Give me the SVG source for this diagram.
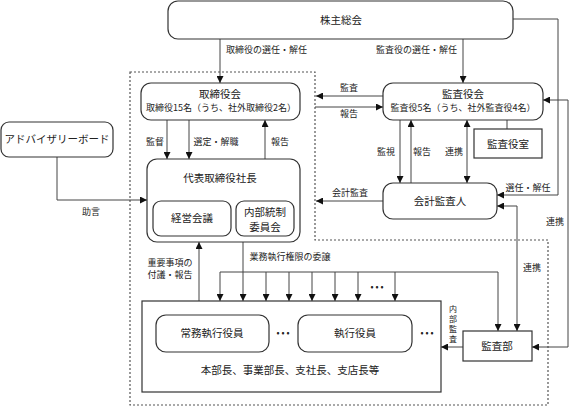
<svg xmlns="http://www.w3.org/2000/svg" width="570" height="407" viewBox="0 0 570 407">
<style>
text{font-family:"Noto Sans CJK JP","Noto Sans",sans-serif;fill:#222;text-anchor:middle}
.t{font-size:10.5px}
.s{font-size:9px}
.l{font-size:9px}
.v{font-size:8px}
.box{fill:#fff;stroke:#333;stroke-width:1.2}
.ln{fill:none;stroke:#444;stroke-width:1}
.dot{fill:none;stroke:#555;stroke-width:1.2;stroke-dasharray:2 2}
</style>
<defs>
<marker id="a" viewBox="0 0 8 8" refX="8" refY="4" markerWidth="7" markerHeight="7" orient="auto-start-reverse" markerUnits="userSpaceOnUse">
<path d="M0,0 L8,4 L0,8 z" fill="#111"/>
</marker>
</defs>
<rect width="570" height="407" fill="#fff"/>
<path class="dot" d="M130,72 H315 V240 H548 V405 H130 Z"/>
<g id="connectors">
<path class="ln" d="M220,39 V83" marker-end="url(#a)"/>
<path class="ln" d="M463,39 V83" marker-end="url(#a)"/>
<path class="ln" d="M167,120 V159" marker-end="url(#a)"/>
<path class="ln" d="M189,120 V159" marker-end="url(#a)"/>
<path class="ln" d="M265,159 V120" marker-end="url(#a)"/>
<path class="ln" d="M57,157 V200 H147" marker-end="url(#a)"/>
<path class="ln" d="M383,96 H316" marker-end="url(#a)"/>
<path class="ln" d="M315,107 H383" marker-end="url(#a)"/>
<path class="ln" d="M383,201 H316" marker-end="url(#a)"/>
<path class="ln" d="M400,120 V183" marker-end="url(#a)"/>
<path class="ln" d="M411,183 V120" marker-end="url(#a)"/>
<path class="ln" d="M467,120 V183" marker-start="url(#a)" marker-end="url(#a)"/>
<path class="ln" d="M507,120 V129"/>
<path class="ln" d="M513,19 H558 V195 H497" marker-end="url(#a)"/>
<path class="ln" d="M532,347 H568 V100 H543" marker-start="url(#a)" marker-end="url(#a)"/>
<path class="ln" d="M497,206 H517 V331" marker-start="url(#a)" marker-end="url(#a)"/>
<path class="ln" d="M463,347 H441" marker-end="url(#a)"/>
<path class="ln" d="M199,301 V242" marker-end="url(#a)"/>
<path class="ln" d="M243,242 V301" marker-end="url(#a)"/>
<path class="ln" d="M220,272 H498 V331" marker-end="url(#a)"/>
<path class="ln" d="M220,272 V301" marker-end="url(#a)"/>
<path class="ln" d="M266,272 V301" marker-end="url(#a)"/>
<path class="ln" d="M289,272 V301" marker-end="url(#a)"/>
<path class="ln" d="M312,272 V301" marker-end="url(#a)"/>
<path class="ln" d="M335,272 V301" marker-end="url(#a)"/>
<path class="ln" d="M358,272 V301" marker-end="url(#a)"/>
<path class="ln" d="M395,272 V301" marker-end="url(#a)"/>
<text class="l" x="377" y="290">• • •</text>
<text class="l" x="226" y="53" style="text-anchor:start">取締役の選任・解任</text>
<text class="l" x="376" y="53" style="text-anchor:start">監査役の選任・解任</text>
<text class="l" x="155" y="145">監督</text>
<text class="l" x="216" y="145">選定・解職</text>
<text class="l" x="280" y="145">報告</text>
<text class="l" x="91" y="215">助言</text>
<text class="l" x="349" y="91">監査</text>
<text class="l" x="349" y="117">報告</text>
<text class="l" x="350" y="196">会計監査</text>
<text class="l" x="386" y="155">監視</text>
<text class="l" x="422" y="155">報告</text>
<text class="l" x="454" y="155">連携</text>
<text class="l" x="528" y="191">選任・解任</text>
<text class="l" x="555" y="225">連携</text>
<text class="l" x="532" y="271">連携</text>
<text class="l" x="290" y="260">業務執行権限の委譲</text>
<text class="l"><tspan x="170" y="266">重要事項の</tspan><tspan x="170" y="278">付議・報告</tspan></text>
<text class="v"><tspan x="453" y="312">内</tspan><tspan x="453" y="322">部</tspan><tspan x="453" y="332">監</tspan><tspan x="453" y="342">査</tspan></text>
</g>
<g id="shareholders">
<rect class="box" x="168" y="1" width="345" height="38" rx="10"/>
<text class="t" x="341" y="24">株主総会</text>
</g>
<g id="board">
<rect class="box" x="141" y="83" width="159" height="37" rx="10"/>
<text class="t" x="220" y="98">取締役会</text>
<text class="s" x="221" y="111">取締役15名（うち、社外取締役2名）</text>
</g>
<g id="auditors">
<rect class="box" x="383" y="83" width="160" height="37" rx="10"/>
<text class="t" x="463" y="98">監査役会</text>
<text class="s" x="463" y="111">監査役5名（うち、社外監査役4名）</text>
</g>
<g id="auditoffice">
<rect class="box" x="474" y="129" width="68" height="29"/>
<text class="t" x="508" y="148">監査役室</text>
</g>
<g id="advisory">
<rect class="box" x="1" y="122" width="112" height="35" rx="8"/>
<text class="t" x="57" y="143">アドバイザリーボード</text>
</g>
<g id="president">
<rect class="box" x="147" y="159" width="153" height="83" rx="10"/>
<text class="t" x="220" y="182">代表取締役社長</text>
</g>
<g id="mgmt">
<rect class="box" x="153" y="201" width="78" height="35" rx="8"/>
<text class="t" x="192" y="222">経営会議</text>
</g>
<g id="internal">
<rect class="box" x="236" y="201" width="58" height="35" rx="8"/>
<text class="t"><tspan x="265" y="216">内部統制</tspan><tspan x="265" y="231">委員会</tspan></text>
</g>
<g id="accountant">
<rect class="box" x="383" y="183" width="114" height="36" rx="10"/>
<text class="t" x="440" y="205">会計監査人</text>
</g>
<g id="executives">
<rect class="box" x="142" y="301" width="299" height="91"/>
<rect class="box" x="156" y="315" width="113" height="37" rx="10"/>
<text class="t" x="212" y="337">常務執行役員</text>
<text class="l" x="283" y="336">• • •</text>
<rect class="box" x="298" y="315" width="114" height="37" rx="10"/>
<text class="t" x="355" y="337">執行役員</text>
<text class="l" x="427" y="336">• • •</text>
<text class="t" x="290" y="374">本部長、事業部長、支社長、支店長等</text>
</g>
<g id="auditdept">
<rect class="box" x="463" y="331" width="69" height="30"/>
<text class="t" x="497" y="350">監査部</text>
</g>
</svg>
